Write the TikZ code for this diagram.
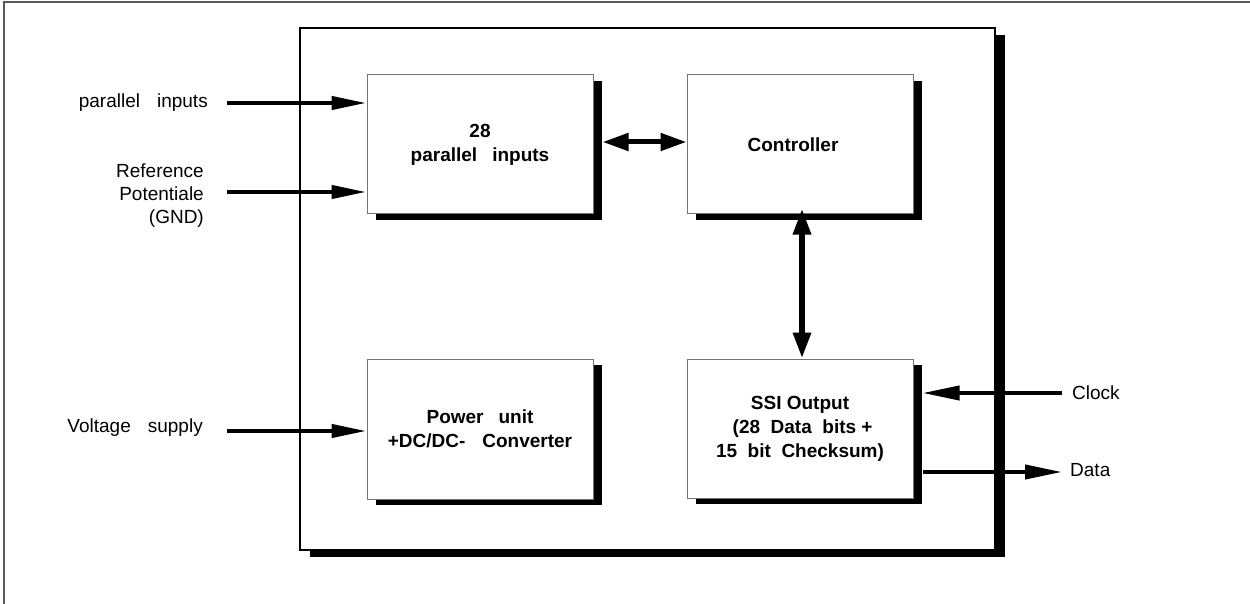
\documentclass[tikz,border=0pt]{standalone}
\usepackage{fontspec}
\setmainfont{Liberation Sans}
\usetikzlibrary{arrows.meta,shadows}
\begin{document}
\begin{tikzpicture}[x=1pt,y=-1pt,
  every node/.style={font=\fontsize{19}{23}\selectfont, inner sep=0pt},
  blk/.style={draw=black!55, line width=1pt, fill=white, minimum width=226pt,
    minimum height=139pt, align=center, font=\fontsize{19}{24}\selectfont\bfseries,
    drop shadow={shadow xshift=9pt, shadow yshift=-6pt, fill=black, opacity=1}},
  lbl/.style={align=right},
  inarrow/.style={line width=4.3pt, -{Triangle[length=35pt,width=13pt]}},
  dblarrow/.style={line width=5pt, {Triangle[length=26pt,width=17pt]}-{Triangle[length=26pt,width=17pt]}},
  sarrow/.style={line width=4pt, -{Triangle[length=37pt,width=14pt]}}
]
\useasboundingbox (0,0) rectangle (1250,604);
% outer frame (cropped)
\draw[black!65, line width=1.3pt] (4,606) -- (4,2) -- (1252,2);
% main enclosure
\node[draw=black, line width=2pt, fill=white, minimum width=695pt, minimum height=522pt,
  drop shadow={shadow xshift=10pt, shadow yshift=-7pt, fill=black, opacity=1}] (main) at (647.5,289) {};
% blocks
\node[blk] (pin) at (480,144.5) {28\\parallel\hspace{15pt}inputs};
\node[blk] (ctl) at (800,144.5) {Controller\hspace*{14pt}};
\node[blk, minimum height=140pt] (pwr) at (480,429) {Power\hspace{15pt}unit\\+DC/DC-\hspace{17pt}Converter};
\node[blk] (ssi) at (800,428.5) {SSI Output\\\ (28\ \ Data\ \ bits +\\15\ \ bit\ \ Checksum)};
% left labels
\node[lbl, anchor=east] (lpi) at (208,103) {parallel\hspace{17pt}inputs};
\node[lbl, anchor=east] (lref) at (204,196) {Reference\ \\Potentiale\ \\(GND)};
\node[lbl, anchor=east] (lvs) at (203,428) {Voltage\hspace{17pt}supply};
% right labels
\node[anchor=west] (clk) at (1072,393) {Clock};
\node[anchor=west] (dat) at (1070,470) {Data};
% input arrows
\coordinate (a1) at (227,103);
\coordinate (a2) at (227,192);
\coordinate (a3) at (227,431);
\draw[inarrow] (a1) -- (a1 -| pin.west);
\draw[inarrow] (a2) -- (a2 -| pin.west);
\draw[inarrow] (a3) -- (a3 -| pwr.west);
% internal arrows
\draw[dblarrow] ([xshift=9pt,yshift=2.5pt]pin.east) -- ([yshift=2.5pt]ctl.west);
\draw[dblarrow, line width=6pt] ([xshift=2pt,yshift=6pt]ctl.south) -- ([xshift=2pt]ssi.north);
% SSI signals
\coordinate (ssiR) at ([xshift=9pt]ssi.east);
\draw[sarrow] ([xshift=-10pt]clk.west) -- (clk.west -| ssiR);
\coordinate (d0) at (ssiR |- 0,472);
\draw[sarrow] (d0) -- (d0 -| 1062,0);
\end{tikzpicture}
\end{document}
